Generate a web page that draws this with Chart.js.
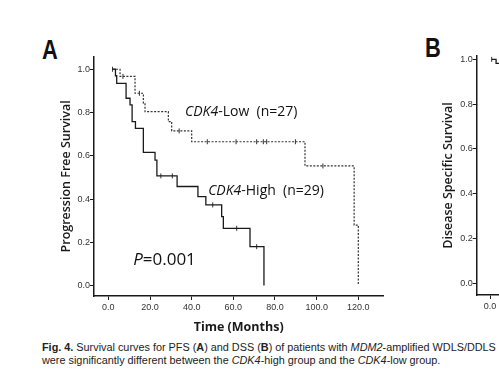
<!DOCTYPE html>
<html>
<head>
<meta charset="utf-8">
<script src="https://cdn.jsdelivr.net/npm/chart.js@4.4.1/dist/chart.umd.min.js"></script>
<style>
  html, body { margin: 0; padding: 0; background: #fff; }
  body { width: 499px; height: 381px; overflow: hidden; position: relative; }
  canvas { position: absolute; top: 0; }
  #chartA { left: 0; }
  #chartB { left: 380px; }
  .panel {
    position: absolute; font: bold 28px "Liberation Sans", Arial, sans-serif;
    line-height: 28px; transform: scaleX(0.78); transform-origin: left top; color: #111;
  }
  .caption {
    position: absolute; left: 42px; top: 341px; width: 470px;
    font: 10.85px "Liberation Sans", Arial, sans-serif; line-height: 13.3px; color: #222;
    white-space: nowrap;
  }
</style>
</head>
<body>
<div class="panel" style="left:42px; top:36px;">A</div>
<div class="panel" style="left:425px; top:34px;">B</div>
<canvas id="chartA" width="400" height="336"></canvas>
<canvas id="chartB" width="402" height="336"></canvas>
<div class="caption">
  <b>Fig. 4.</b> Survival curves for PFS (<b>A</b>) and DSS (<b>B</b>) of patients with <i>MDM2</i>-amplified WDLS/DDLS<br>
  were significantly different between the <i>CDK4</i>-high group and the <i>CDK4</i>-low group.
</div>
<script>
// ---- Panel A: progression free survival (months) ----
const highTimes = [2, 3.4, 4.0, 8.5, 10.4, 11.4, 13, 16.8, 22.4, 23.3, 33, 43, 46.8, 54.4, 55.2, 68, 74.7];
const highSurv  = [1, 0.97, 0.935, 0.866, 0.835, 0.758, 0.727, 0.616, 0.58, 0.507, 0.458, 0.411, 0.373, 0.319, 0.265, 0.18, 0.0];
const highCensT = [2, 25.2, 30.7, 50.1, 61.6, 71.2];
const highCensS = [1, 0.507, 0.507, 0.373, 0.265, 0.18];

const lowTimes = [2, 5.6, 12.8, 16.8, 17.6, 28.8, 30.4, 40, 94.4, 118, 120];
const lowSurv  = [1, 0.967, 0.889, 0.843, 0.804, 0.758, 0.715, 0.665, 0.553, 0.28, 0.0];
const lowCensT = [7, 14.9, 34, 47.5, 61.3, 71.2, 74.4, 76, 89.8, 103];
const lowCensS = [0.967, 0.889, 0.715, 0.665, 0.665, 0.665, 0.665, 0.665, 0.665, 0.553];

// ---- Panel B: disease specific survival (only the left edge is in frame) ----
const dssTimes = [0.8, 2.9, 60];
const dssSurv  = [1, 0.982, 0.982];
const dssCensT = [0.8];
const dssCensS = [1];

const xTicks = [0, 20, 40, 60, 80, 100, 120];
const yTicks = [0, 0.2, 0.4, 0.6, 0.8, 1.0];

const pts = (t, s) => t.map((v, i) => ({ x: v, y: s[i] }));
const ink = "#1a1a1a";
const tickFont = { family: "'Liberation Sans', Arial, sans-serif", size: 9 };
const titleFont = { family: "'Open Sans', sans-serif", size: 12.5, weight: "600" };

function stepSet(data, dashed) {
  return {
    type: "line", data, stepped: "before", pointRadius: 0,
    borderColor: dashed ? "#333" : ink, borderWidth: dashed ? 1.2 : 1.3,
    borderDash: dashed ? [2, 1.5] : [],
  };
}
function censSet(data) {
  return {
    type: "scatter", data, showLine: false, pointStyle: "line", rotation: 90,
    pointRadius: 2.5, borderColor: "#333", borderWidth: 1,
  };
}

function scales(xr, yr, yTitle, yTitlePad, yWidth, xHeight) {
  return {
    x: {
      type: "linear", min: xr[0], max: xr[1],
      afterBuildTicks: (s) => { s.ticks = xTicks.map((v) => ({ value: v })); },
      afterFit: (s) => { s.height = xHeight; },
      ticks: { callback: (v) => v.toFixed(1), font: tickFont, color: "#333", padding: 2, maxRotation: 0 },
      grid: { drawOnChartArea: false, drawTicks: true, tickLength: 4, color: ink },
      border: { display: true, color: ink, width: 1.5 },
      title: { display: !!xr[2], text: xr[2], font: { family: "'Open Sans', sans-serif", size: 12.5, weight: "bold" }, color: ink, padding: { top: 0, bottom: 1.5 } },
    },
    y: {
      min: yr[0], max: yr[1],
      afterBuildTicks: (s) => { s.ticks = yTicks.map((v) => ({ value: v })); },
      afterFit: (s) => { s.width = yWidth; },
      ticks: { callback: (v) => v.toFixed(1), font: tickFont, color: "#333", padding: 0 },
      grid: { drawOnChartArea: false, drawTicks: true, tickLength: 4, color: ink },
      border: { display: true, color: ink, width: 1.5 },
      title: { display: true, text: yTitle, font: titleFont, color: ink, padding: { top: yTitlePad, bottom: 0 } },
    },
  };
}

// in-plot text labels, anchored in data units
const notes = [
  { x: 36.8, y: 0.802, size: 14, parts: [["CDK4", true], ["-Low  (n=27)", false]] },
  { x: 47.9, y: 0.437, size: 14, parts: [["CDK4", true], ["-High  (n=29)", false]] },
  { x: 11.9, y: 0.119, size: 17, parts: [["P", true], ["=0.001", false]] },
];
const notesPlugin = {
  id: "notes",
  afterDatasetsDraw(chart) {
    const { ctx, scales: { x, y } } = chart;
    ctx.save();
    ctx.fillStyle = "#111";
    ctx.textBaseline = "middle";
    notes.forEach((n) => {
      let px = x.getPixelForValue(n.x);
      const py = y.getPixelForValue(n.y);
      n.parts.forEach(([txt, it]) => {
        ctx.font = (it ? "italic " : "") + "500 " + n.size + "px 'Open Sans', sans-serif";
        ctx.fillText(txt, px, py);
        px += ctx.measureText(txt).width;
      });
    });
    ctx.restore();
  },
};

const common = {
  responsive: false, animation: false, devicePixelRatio: 1,
  plugins: { legend: { display: false }, tooltip: { enabled: false } },
};

new Chart(document.getElementById("chartA"), {
  data: {
    datasets: [
      stepSet(pts(lowTimes, lowSurv), true),
      stepSet(pts(highTimes, highSurv), false),
      censSet(pts(lowCensT, lowCensS)),
      censSet(pts(highCensT, highCensS)),
    ],
  },
  options: {
    ...common,
    layout: { padding: { left: 0, top: 56.7, right: 16.7, bottom: 0 } },
    scales: scales([-6.9, 132, "Time (Months)"], [-0.048, 1.058], "Progression Free Survival", 58.5, 94, 40),
  },
  plugins: [notesPlugin],
});

new Chart(document.getElementById("chartB"), {
  data: {
    datasets: [
      stepSet(pts(dssTimes, dssSurv), false),
      censSet(pts(dssCensT, dssCensS)),
    ],
  },
  options: {
    ...common,
    layout: { padding: { left: 0, top: 56, right: 17, bottom: 0 } },
    scales: scales([-6.4, 132, ""], [-0.052, 1.015], "Disease Specific Survival", 60.5, 96.7, 41),
  },
});
</script>
</body>
</html>
